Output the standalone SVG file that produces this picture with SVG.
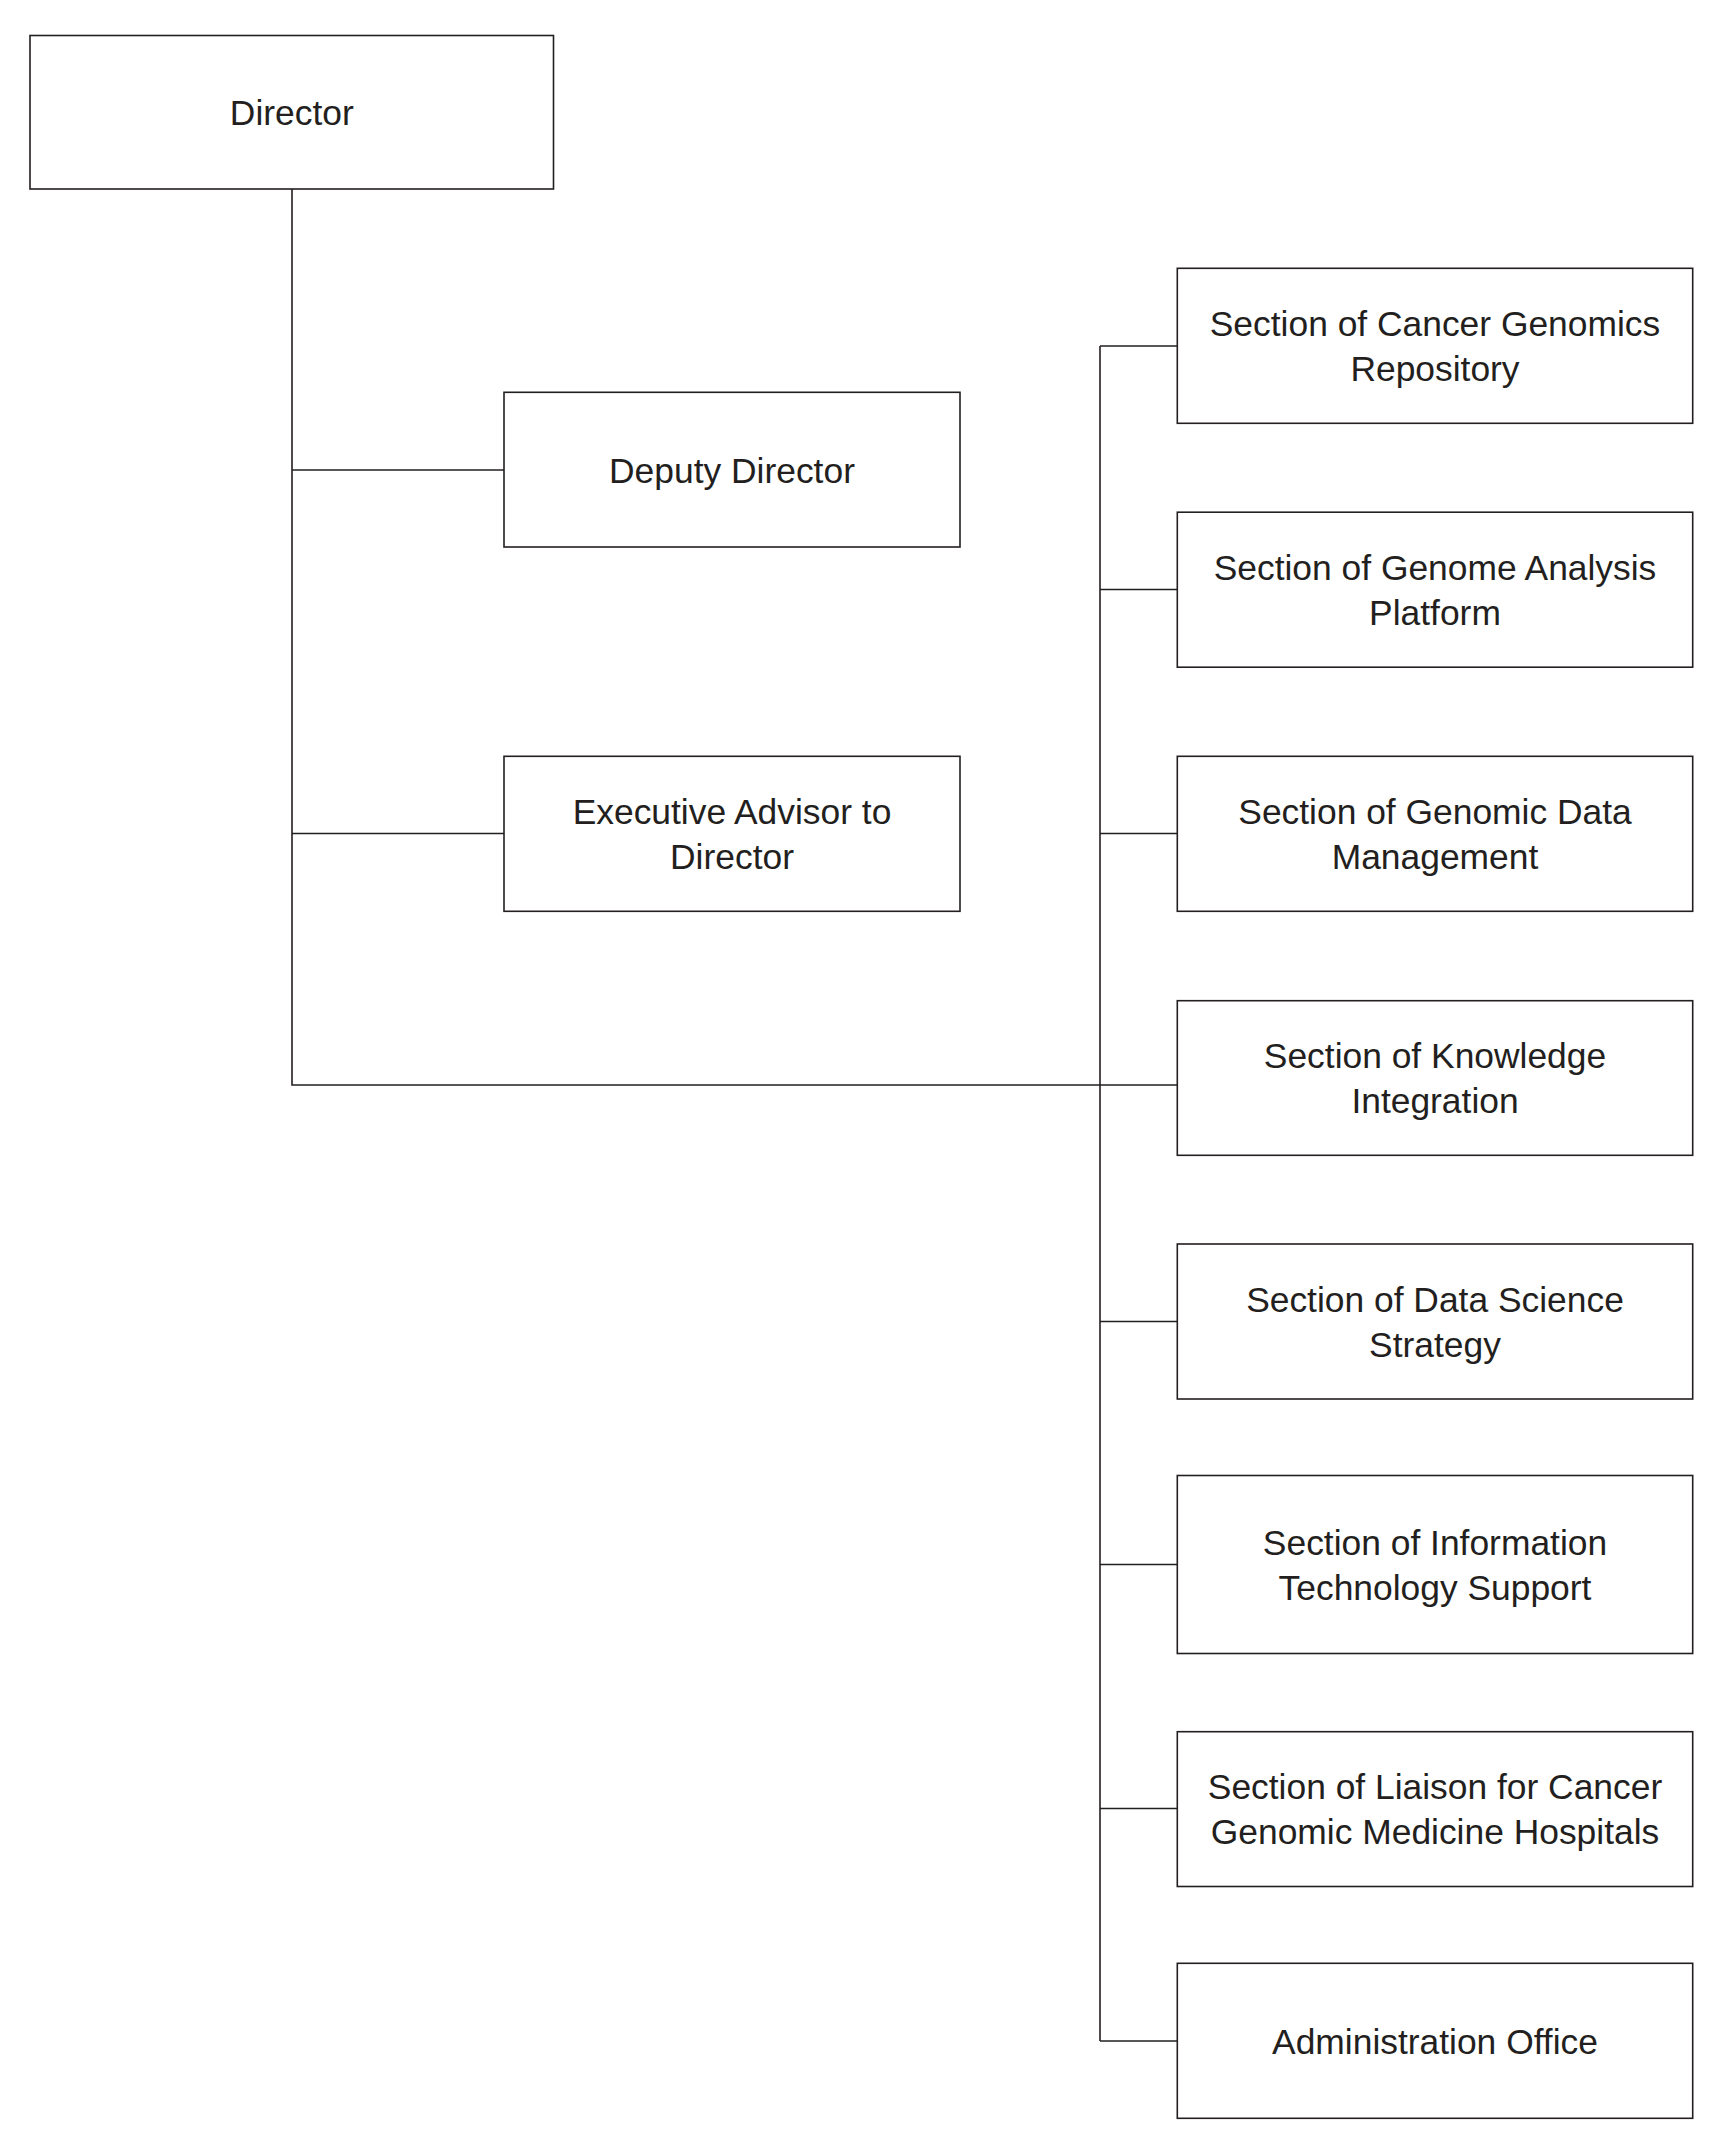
<svg xmlns="http://www.w3.org/2000/svg" width="1729" height="2148" viewBox="0 0 1729 2148">
<style>
.box{fill:#ffffff;stroke:#231f20;stroke-width:1.6}
.ln{fill:none;stroke:#231f20;stroke-width:1.6}
text{font-family:"Liberation Sans",Arial,sans-serif;font-size:35.4px;fill:#231f20;text-anchor:middle}
</style>
<rect width="1729" height="2148" fill="#ffffff"/>
<g id="connectors">
<path class="ln" d="M292 189 V1085 H1177"/>
<path class="ln" d="M292 470 H504"/>
<path class="ln" d="M292 833.5 H504"/>
<path class="ln" d="M1100 346 V2041"/>
<path class="ln" d="M1100 346 H1177"/>
<path class="ln" d="M1100 589.5 H1177"/>
<path class="ln" d="M1100 833.5 H1177"/>
<path class="ln" d="M1100 1321.5 H1177"/>
<path class="ln" d="M1100 1564.5 H1177"/>
<path class="ln" d="M1100 1808.5 H1177"/>
<path class="ln" d="M1100 2041 H1177"/>
</g>
<g id="director">
<rect class="box" x="30" y="35.5" width="523.5" height="153.5"/>
<text x="291.8" y="125">Director</text>
</g>
<g id="deputy-director">
<rect class="box" x="504" y="392.3" width="456" height="154.7"/>
<text x="732" y="483">Deputy Director</text>
</g>
<g id="executive-advisor">
<rect class="box" x="504" y="756.3" width="456" height="155"/>
<text x="732" y="824">Executive Advisor to</text>
<text x="732" y="869">Director</text>
</g>
<g id="section-cancer-genomics-repository">
<rect class="box" x="1177.3" y="268.3" width="515.4" height="155"/>
<text x="1435" y="335.7">Section of Cancer Genomics</text>
<text x="1435" y="380.7">Repository</text>
</g>
<g id="section-genome-analysis-platform">
<rect class="box" x="1177.3" y="512.2" width="515.4" height="155"/>
<text x="1435" y="579.7">Section of Genome Analysis</text>
<text x="1435" y="624.7">Platform</text>
</g>
<g id="section-genomic-data-management">
<rect class="box" x="1177.3" y="756.3" width="515.4" height="155"/>
<text x="1435" y="824">Section of Genomic Data</text>
<text x="1435" y="869">Management</text>
</g>
<g id="section-knowledge-integration">
<rect class="box" x="1177.3" y="1000.7" width="515.4" height="154.6"/>
<text x="1435" y="1068.2">Section of Knowledge</text>
<text x="1435" y="1113.2">Integration</text>
</g>
<g id="section-data-science-strategy">
<rect class="box" x="1177.3" y="1244" width="515.4" height="155"/>
<text x="1435" y="1311.7">Section of Data Science</text>
<text x="1435" y="1356.7">Strategy</text>
</g>
<g id="section-it-support">
<rect class="box" x="1177.3" y="1475.5" width="515.4" height="178"/>
<text x="1435" y="1554.7">Section of Information</text>
<text x="1435" y="1599.7">Technology Support</text>
</g>
<g id="section-liaison">
<rect class="box" x="1177.3" y="1731.7" width="515.4" height="154.8"/>
<text x="1435" y="1799.2">Section of Liaison for Cancer</text>
<text x="1435" y="1844.2">Genomic Medicine Hospitals</text>
</g>
<g id="administration-office">
<rect class="box" x="1177.3" y="1963.3" width="515.4" height="155"/>
<text x="1435" y="2054">Administration Office</text>
</g>
</svg>
